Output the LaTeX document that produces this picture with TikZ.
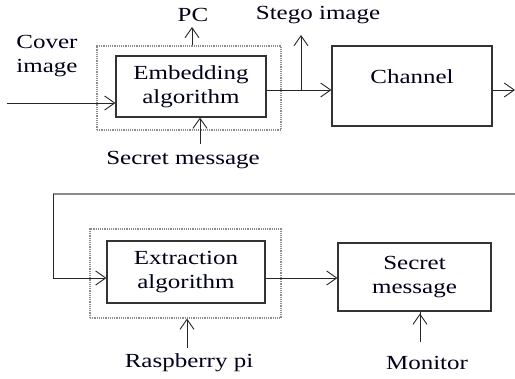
\documentclass[tikz,border=0pt]{standalone}
\usepackage{fontspec}
\setmainfont[FakeStretch=1.25]{Liberation Serif}
\usetikzlibrary{arrows.meta}
\begin{document}
\begin{tikzpicture}[x=1pt,y=-1pt,
  every node/.style={font=\fontsize{20}{24}\selectfont, text=black!90!blue, inner sep=0pt},
  blk/.style={draw=black!80, line width=1.1pt},
  dotbox/.style={draw=black!45, densely dotted, line width=1.2pt},
  conn/.style={draw=black!85, line width=0.9pt},
  arr/.style={conn, -{Straight Barb[length=10pt,width=14pt,line width=0.9pt]}},
  lbl/.style={align=center}]
\useasboundingbox (0,0) rectangle (515,379);
% top
\node[dotbox, minimum width=184pt, minimum height=84pt] (box1) at (189,88) {};
\node[blk, minimum width=150pt, minimum height=61pt, lbl] (emb) at (191,86.5) {Embedding\\algorithm};
\node[blk, minimum width=160pt, minimum height=80pt] (ch) at (412,86) {};
\node (chl) at (412,77) {Channel};
\node[lbl] (cover) at (47,56) {Cover\\image};
\node (pc) at (193,15) {PC};
\node (stego) at (318,15) {Stego image};
\node (sm1) at (183,160) {Secret message};
\coordinate (cin) at (7,103);
\coordinate (eout) at (266,90);
\coordinate (br) at (301,90);
\coordinate (stop) at (301,35);
\coordinate (pctip) at (192,27);
\coordinate (smtail) at (200,144);
\coordinate (chout) at (515,90);
\draw[arr] (cin) -- (cin -| emb.west);
\draw[arr] (pctip |- box1.north) -- (pctip);
\draw[arr] (smtail) -- (smtail |- emb.south);
\draw[arr] (eout) -- (eout -| ch.west);
\draw[arr] (br) -- (stop);
\draw[arr] (ch.east |- chout) -- (chout);
% bottom
\node[dotbox, minimum width=191pt, minimum height=89pt] (box2) at (185.5,273.5) {};
\node[blk, minimum width=158pt, minimum height=62pt, lbl] (ext) at (186,272) {Extraction\\algorithm};
\node[blk, minimum width=153pt, minimum height=68pt, lbl] (smb) at (414.5,277) {Secret\\message};
\node (rpi) at (189,363) {Raspberry pi};
\node (mon) at (427,363) {Monitor};
\coordinate (lr) at (515,194);
\coordinate (ll) at (53,194);
\coordinate (lb) at (53,278);
\coordinate (rpt) at (187,348);
\coordinate (mont) at (420,342);
\draw[draw=black!45, line width=1.5pt] (lr) -- (ll);
\draw[conn] (ll) -- (lb);
\draw[arr] (lb) -- (lb -| ext.west);
\draw[arr] (ext.east |- lb) -- (smb.west |- lb);
\draw[arr] (rpt) -- (rpt |- box2.south);
\draw[arr] (mont) -- (mont |- smb.south) ++(0,2);
\end{tikzpicture}
\end{document}
